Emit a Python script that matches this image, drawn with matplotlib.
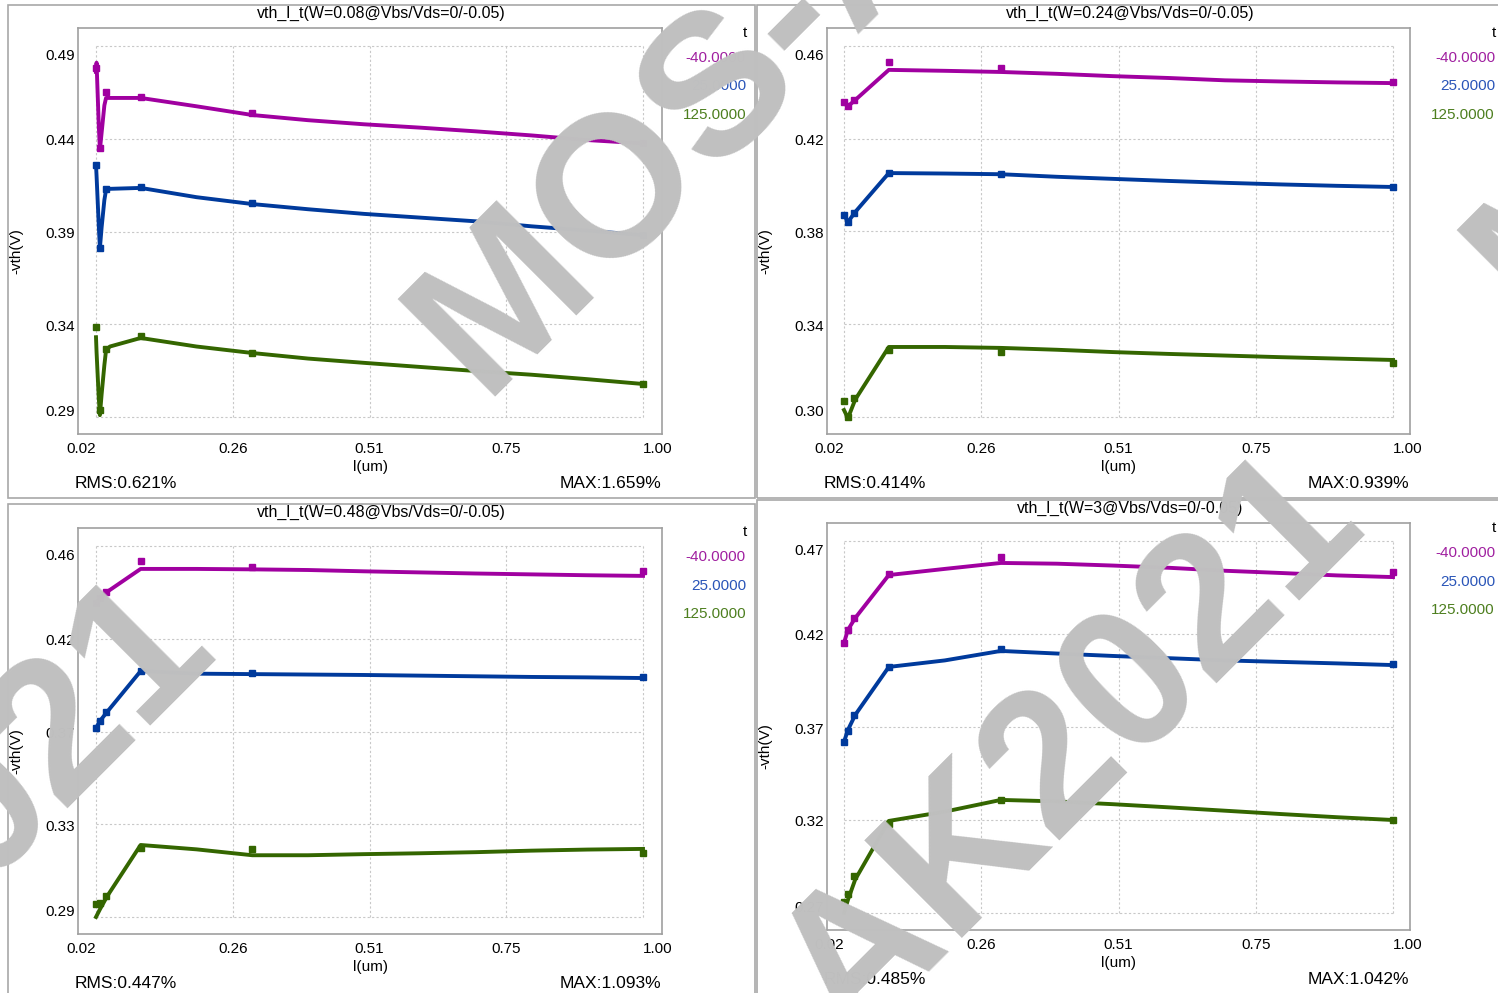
import numpy as np
import matplotlib
matplotlib.use('Agg')
import matplotlib.pyplot as plt
from matplotlib.patches import Rectangle

W, H = 1498, 993
plt.rcParams['font.family'] = ['Liberation Sans', 'DejaVu Sans']

# ---- data (l in um, -vth in V) ----
temps = ['-40.0000', '25.0000', '125.0000']
x_ticks = [0.02, 0.265, 0.51, 0.755, 1.00]
x_tick_labels = ['0.02', '0.26', '0.51', '0.75', '1.00']
l_meas = [0.02, 0.027, 0.038, 0.1, 0.3, 1.0]

# W=0.08
l_model_w008 = [0.02, 0.021, 0.025, 0.027, 0.030, 0.035, 0.038, 0.045, 0.1,
                0.2, 0.3, 0.4, 0.5, 0.6, 0.7, 0.8, 0.9, 1.0]
vth_m40_w008 = [0.476, 0.481, 0.447, 0.434, 0.443, 0.458, 0.462, 0.462, 0.462,
                0.4575, 0.4528, 0.4500, 0.4478, 0.4460, 0.4440, 0.4418, 0.4393, 0.4375]
vth_25_w008 = [0.426, 0.420, 0.393, 0.381, 0.392, 0.407, 0.4124, 0.413, 0.4135,
               0.4085, 0.4048, 0.4020, 0.3995, 0.3975, 0.3955, 0.3928, 0.3905, 0.3880]
vth_125_w008 = [0.333, 0.325, 0.300, 0.291, 0.302, 0.318, 0.326, 0.328, 0.3326,
                0.3280, 0.3245, 0.3215, 0.3192, 0.3170, 0.3148, 0.3128, 0.3104, 0.3078]
meas_m40_w008 = [0.478, 0.435, 0.465, 0.4625, 0.454, 0.4375]
meas_25_w008 = [0.426, 0.381, 0.413, 0.4138, 0.4053, 0.388]
meas_125_w008 = [0.3385, 0.294, 0.3265, 0.3335, 0.3245, 0.3078]

l_model = [0.02, 0.027, 0.04, 0.1, 0.2, 0.3, 0.4, 0.5, 0.6, 0.7, 0.8, 0.9, 1.0]

# W=0.24
vth_m40_w024 = [0.4358, 0.4340, 0.4367, 0.4497, 0.4493, 0.4488, 0.4480, 0.4470, 0.4462, 0.4452, 0.4447, 0.4443, 0.4440]
vth_25_w024 = [0.3871, 0.3841, 0.3884, 0.4052, 0.4050, 0.4047, 0.4036, 0.4027, 0.4018, 0.4010, 0.4003, 0.3997, 0.3992]
vth_125_w024 = [0.3030, 0.2995, 0.3075, 0.3302, 0.3302, 0.3298, 0.3290, 0.3280, 0.3272, 0.3265, 0.3258, 0.3252, 0.3246]
meas_m40_w024 = [0.4358, 0.4340, 0.4367, 0.4531, 0.4505, 0.4445]
meas_25_w024 = [0.3871, 0.3841, 0.3880, 0.4052, 0.4048, 0.3992]
meas_125_w024 = [0.3069, 0.3000, 0.3080, 0.3290, 0.3280, 0.3233]

# W=0.48
vth_m40_w048 = [0.4340, 0.4360, 0.4390, 0.4495, 0.4495, 0.4493, 0.4490, 0.4484, 0.4479, 0.4474, 0.4470, 0.4466, 0.4463]
vth_25_w048 = [0.3766, 0.3798, 0.3840, 0.4027, 0.4015, 0.4013, 0.4011, 0.4009, 0.4006, 0.4003, 0.4000, 0.3998, 0.3995]
vth_125_w048 = [0.2900, 0.2935, 0.2995, 0.3230, 0.3210, 0.3183, 0.3183, 0.3188, 0.3192, 0.3197, 0.3204, 0.3209, 0.3212]
meas_m40_w048 = [0.4340, 0.4360, 0.4390, 0.4531, 0.4504, 0.4485]
meas_25_w048 = [0.3766, 0.3800, 0.3840, 0.4027, 0.4018, 0.3999]
meas_125_w048 = [0.2960, 0.2965, 0.2995, 0.3216, 0.3212, 0.3193]

# W=3
vth_m40_w3 = [0.4152, 0.4222, 0.4286, 0.4517, 0.4550, 0.4582, 0.4578, 0.4568, 0.4556, 0.4540, 0.4528, 0.4515, 0.4506]
vth_25_w3 = [0.3620, 0.3684, 0.3765, 0.4023, 0.4058, 0.4109, 0.4095, 0.4082, 0.4070, 0.4058, 0.4050, 0.4042, 0.4033]
vth_125_w3 = [0.2700, 0.2770, 0.2880, 0.3195, 0.3245, 0.3308, 0.3300, 0.3285, 0.3268, 0.3250, 0.3232, 0.3215, 0.3200]
meas_m40_w3 = [0.4152, 0.4220, 0.4286, 0.4523, 0.4614, 0.4533]
meas_25_w3 = [0.3620, 0.3680, 0.3765, 0.4023, 0.4120, 0.4038]
meas_125_w3 = [0.2760, 0.2800, 0.2900, 0.3180, 0.3310, 0.3200]

line_colors = ['#a000a0', '#003a9c', '#346600']
text_colors = ['#a020a0', '#2a55b8', '#4d7f1f']


def ftext(fig, x, y, s, **kw):
    # place text using pixel coordinates of the 1498x993 image
    return fig.text(x / W, 1 - y / H, s, **kw)


def draw_panel(fig, outer, box, grid, title, y_vals, y_labels, l_line, lines,
               meas, rms, mx, legend_x, legend_y):
    ox, oy, ox2, oy2 = outer
    fig.add_artist(Rectangle((ox / W, 1 - oy2 / H), (ox2 - ox) / W, (oy2 - oy) / H,
                             transform=fig.transFigure, fill=False,
                             ec='#a8a8a8', lw=1.2))
    bl, bt, br, bb = box
    gl, gt, gr, gb = grid
    ax = fig.add_axes([bl / W, 1 - bb / H, (br - bl) / W, (bb - bt) / H])

    sx = (x_ticks[-1] - x_ticks[0]) / (gr - gl)
    ax.set_xlim(x_ticks[0] - (gl - bl) * sx, x_ticks[-1] + (br - gr) * sx)
    ymin, ymax = y_vals[-1], y_vals[0]
    sy = (ymax - ymin) / (gb - gt)
    ax.set_ylim(ymin - (bb - gb) * sy, ymax + (gt - bt) * sy)

    ax.hlines(y_vals, x_ticks[0], x_ticks[-1], colors='#c8c8c8',
              linestyles=(0, (2, 2)), lw=0.8, zorder=1)
    ax.vlines(x_ticks, ymin, ymax, colors='#c8c8c8',
              linestyles=(0, (2, 2)), lw=0.8, zorder=1)

    for vals, c in zip(lines, line_colors):
        ax.plot(l_line, vals, color=c, lw=2.8, zorder=3)
    for vals, c in zip(meas, line_colors):
        ax.plot(l_meas, vals, 's', color=c, ms=5, zorder=4)

    ax.set_xticks([])
    ax.set_yticks([])
    for sp in ax.spines.values():
        sp.set_color('#a0a0a0')
        sp.set_linewidth(1.2)

    # texts
    ftext(fig, (ox + ox2) / 2, oy + 8, title, ha='center', va='center', fontsize=11.5)
    n = len(y_labels)
    for i, lab in enumerate(y_labels):
        gy = gt + i * (gb - gt) / (n - 1)
        if i == 0:
            yy = gy + 10
        elif i == n - 1:
            yy = gy - 5
        else:
            yy = gy + 2.5
        ftext(fig, bl - 3, yy, lab, ha='right', va='center', fontsize=11)
    for i, lab in enumerate(x_tick_labels):
        gx = gl + i * (gr - gl) / (len(x_tick_labels) - 1)
        ha = 'center'
        if i == 0:
            ha = 'right'
        elif i == len(x_tick_labels) - 1:
            ha = 'left'
        ftext(fig, gx, bb + 15, lab, ha=ha, va='center', fontsize=11)
    ftext(fig, (bl + br) / 2, bb + 33, 'l(um)', ha='center', va='center', fontsize=11)
    ftext(fig, ox + 8, (bt + bb) / 2 + 20, '-vth(V)', ha='center', va='center',
          rotation=90, fontsize=11)
    ftext(fig, bl - 3, bb + 50, rms, ha='left', va='center', fontsize=12.5)
    ftext(fig, br - 1, bb + 50, mx, ha='right', va='center', fontsize=12.5)

    ftext(fig, legend_x + 1, legend_y, 't', ha='right', va='center', fontsize=11)
    for i, (t, c) in enumerate(zip(temps, text_colors)):
        ftext(fig, legend_x, legend_y + 25 + i * 28.5, t, ha='right', va='center',
              fontsize=11, color=c)
    return ax


fig = plt.figure(figsize=(W / 100, H / 100), dpi=100)

draw_panel(fig, (8, 5, 755, 498), (78, 28, 662, 434), (96, 46, 643, 417),
           'vth_l_t(W=0.08@Vbs/Vds=0/-0.05)',
           [0.49, 0.44, 0.39, 0.34, 0.29], ['0.49', '0.44', '0.39', '0.34', '0.29'],
           l_model_w008, [vth_m40_w008, vth_25_w008, vth_125_w008],
           [meas_m40_w008, meas_25_w008, meas_125_w008],
           'RMS:0.621%', 'MAX:1.659%', 746, 33)

draw_panel(fig, (757, 5, 1503, 498), (827, 28, 1410, 434), (844, 46, 1393, 417),
           'vth_l_t(W=0.24@Vbs/Vds=0/-0.05)',
           [0.46, 0.42, 0.38, 0.34, 0.30], ['0.46', '0.42', '0.38', '0.34', '0.30'],
           l_model, [vth_m40_w024, vth_25_w024, vth_125_w024],
           [meas_m40_w024, meas_25_w024, meas_125_w024],
           'RMS:0.414%', 'MAX:0.939%', 1495, 33)

draw_panel(fig, (8, 504, 755, 1000), (78, 528, 662, 934), (96, 546, 643, 917),
           'vth_l_t(W=0.48@Vbs/Vds=0/-0.05)',
           [0.46, 0.4175, 0.375, 0.3325, 0.29], ['0.46', '0.42', '0.37', '0.33', '0.29'],
           l_model, [vth_m40_w048, vth_25_w048, vth_125_w048],
           [meas_m40_w048, meas_25_w048, meas_125_w048],
           'RMS:0.447%', 'MAX:1.093%', 746, 532)

draw_panel(fig, (757, 500, 1503, 1000), (827, 523, 1410, 930), (844, 541, 1393, 913),
           'vth_l_t(W=3@Vbs/Vds=0/-0.05)',
           [0.47, 0.42, 0.37, 0.32, 0.27], ['0.47', '0.42', '0.37', '0.32', '0.27'],
           l_model, [vth_m40_w3, vth_25_w3, vth_125_w3],
           [meas_m40_w3, meas_25_w3, meas_125_w3],
           'RMS:0.485%', 'MAX:1.042%', 1495, 528)

# watermark, tiled along 45 degree lines; (u, v) = along / across the text line
em = 200
r2 = np.sqrt(2)
for u, v in [(688, 550), (-30, 1262), (-931, 538), (1486, 1250)]:
    vb = v + 0.358 * em
    x = (u + vb) / r2
    y = (vb - u) / r2
    ftext(fig, x, y, 'MOS-AK2021', rotation=45, rotation_mode='anchor',
          ha='center', va='baseline', fontsize=em * 72 / 100, fontweight='bold',
          color='#c0c0c0', zorder=10)

fig.savefig('out.png', dpi=100)
